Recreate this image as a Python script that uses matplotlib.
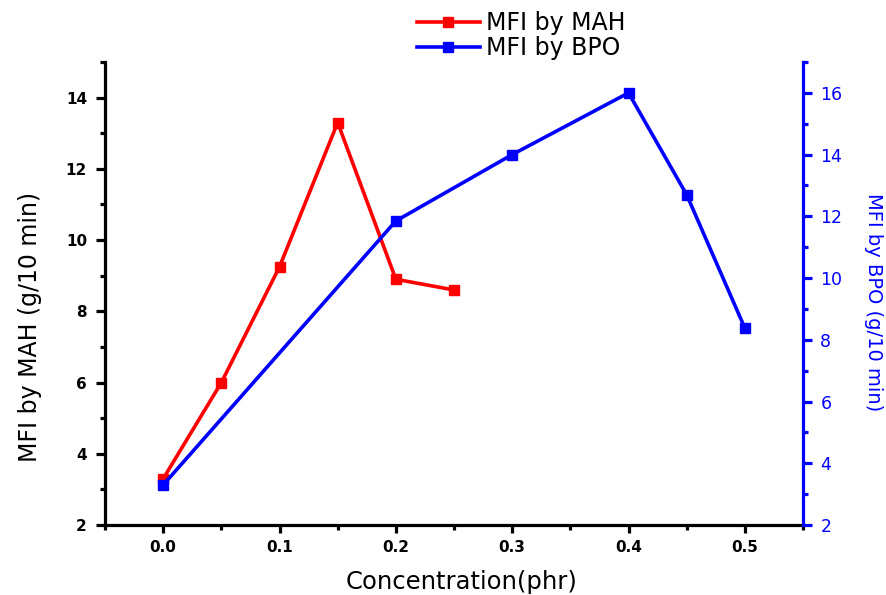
import matplotlib
matplotlib.use("Agg")
import matplotlib.pyplot as plt
from matplotlib.ticker import MultipleLocator

plt.rcParams['font.family'] = ['DejaVu Sans']

# Melt flow index vs. initiator concentration
conc_mah = [0.0, 0.05, 0.10, 0.15, 0.20, 0.25]
mfi_mah = [3.3, 6.0, 9.25, 13.3, 8.9, 8.6]

conc_bpo = [0.0, 0.20, 0.30, 0.40, 0.45, 0.50]
mfi_bpo = [3.3, 11.85, 14.0, 16.0, 12.7, 8.38]

x_ticks = [0.0, 0.1, 0.2, 0.3, 0.4, 0.5]
left_ticks = [2, 4, 6, 8, 10, 12, 14]
right_ticks = [2, 4, 6, 8, 10, 12, 14, 16]

RED = '#ff0000'
BLUE = '#0000ff'

fig = plt.figure(figsize=(8.87, 5.95), dpi=100)
ax = fig.add_axes([0.1184, 0.1176, 0.7869, 0.7782])
ax2 = ax.twinx()

l1, = ax.plot(conc_mah, mfi_mah, color=RED, lw=2.6, marker='s', ms=7,
              label='MFI by MAH', zorder=3)
l2, = ax2.plot(conc_bpo, mfi_bpo, color=BLUE, lw=2.6, marker='s', ms=7,
               label='MFI by BPO', zorder=3)

ax.set_xlim(-0.05, 0.55)
ax.set_ylim(2, 15)
ax2.set_ylim(2, 17)

ax.set_xticks(x_ticks)
ax.set_xticklabels([f'{v:.1f}' for v in x_ticks])
ax.xaxis.set_minor_locator(MultipleLocator(0.05))
ax.set_yticks(left_ticks)
ax.yaxis.set_minor_locator(MultipleLocator(1))
ax2.set_yticks(right_ticks)
ax2.yaxis.set_minor_locator(MultipleLocator(1))

for a in (ax, ax2):
    a.spines['top'].set_visible(False)
ax.spines['right'].set_visible(False)
ax.spines['left'].set_linewidth(2.3)
ax.spines['bottom'].set_linewidth(2.3)
ax2.spines['left'].set_visible(False)
ax2.spines['bottom'].set_visible(False)
ax2.spines['right'].set_linewidth(2.3)
ax2.spines['right'].set_color(BLUE)

ax.tick_params(axis='both', which='major', direction='out', length=6.5, width=2.3,
               labelsize=11, pad=6.5)
ax.tick_params(axis='both', which='minor', direction='out', length=3.5, width=2.3)
ax.tick_params(axis='x', which='major', length=6, pad=5)
for lab in ax.get_xticklabels() + ax.get_yticklabels():
    lab.set_fontweight('bold')

ax2.tick_params(axis='y', which='major', direction='out', length=6.5, width=2.3,
                labelsize=12.5, colors=BLUE, pad=6)
ax2.tick_params(axis='y', which='minor', direction='out', length=3.5, width=2.3,
                colors=BLUE)

ax.set_xlabel('Concentration(phr)', fontsize=17.5, va='center', ha='center')
ax.xaxis.set_label_coords(0.511, -0.122)
ax.set_ylabel('MFI by MAH (g/10 min)', fontsize=17, va='center', ha='center',
              rotation=90, rotation_mode='anchor')
ax.yaxis.set_label_coords(-0.107, 0.428)
ax2.set_ylabel('MFI by BPO (g/10 min)', fontsize=14, color=BLUE, va='center',
               ha='center', rotation=270, rotation_mode='anchor')
ax2.yaxis.set_label_coords(1.1017, 0.4816)

fig.legend(handles=[l1, l2], loc='center left', bbox_to_anchor=(0.4701, 0.9403),
           frameon=False, fontsize=17, handlelength=2.67, handletextpad=0.25,
           labelspacing=0.05, borderpad=0.0, borderaxespad=0.0)

fig.savefig('out.png', dpi=100)
